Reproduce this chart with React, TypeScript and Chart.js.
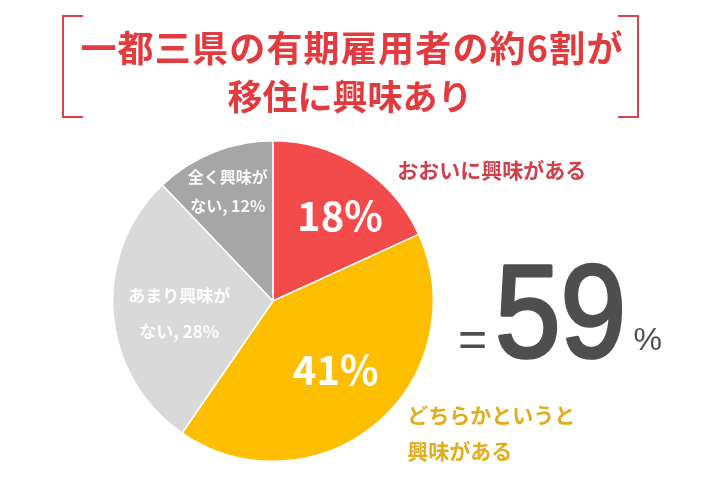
import { useEffect, useRef } from "react";
import { Chart, registerables } from "chart.js";
Chart.register(...registerables);

// ---- data ----
const categories = ["おおいに興味がある", "どちらかというと興味がある", "あまり興味がない", "全く興味がない"];
const values = [18, 41, 28, 12];
const titleLines = ["一都三県の有期雇用者の約6割が", "移住に興味あり"];
const insidePrefix = [[], [], ["あまり興味が", "ない, "], ["全く興味が", "ない, "]];
const outsideLabels = [["おおいに興味がある"], ["どちらかというと", "興味がある"]];

// ---- style ----
const colors = ["#f34b4b", "#fdbe00", "#d9d9d9", "#a6a6a6"];
const titleColor = "#e23b3f";
const bracketColor = "#d8434d";
const outsideColors = ["#cf3f4c", "#e2ad1c"];
const JP = "'Noto Sans CJK JP', 'Noto Sans', sans-serif";
// label placement relative to each slice (radius fraction, angle offset in degrees)
const labelR = [0.675, 0.58, 0.59, 0.74];
const labelAng = [5.5, -2.4, -2.8, -0.6];
const labelFont = ["bold 40px " + JP, "bold 40px " + JP, "bold 17px " + JP, "bold 16px " + JP];
const labelLineH = [0, 0, 36, 29];

function buildInside(i: number): string[] {
  const pre = insidePrefix[i];
  if (pre.length === 0) return [values[i] + "%"];
  return [pre[0], pre[1] + values[i] + "%"];
}

const annotPlugin = {
  id: "annot",
  afterDraw(chart: any) {
    const ctx: any = chart.ctx;
    const meta = chart.getDatasetMeta(0);
    const a0 = meta.data[0].getProps(["x", "y", "outerRadius"], true);
    const cx = a0.x, cy = a0.y, R = a0.outerRadius;
    ctx.save();

    // brackets
    ctx.strokeStyle = bracketColor;
    ctx.lineWidth = 2;
    ctx.beginPath();
    ctx.moveTo(83, 16); ctx.lineTo(63, 16); ctx.lineTo(63, 117); ctx.lineTo(83, 117);
    ctx.moveTo(618, 16); ctx.lineTo(638, 16); ctx.lineTo(638, 117); ctx.lineTo(618, 117);
    ctx.stroke();

    // title
    ctx.fillStyle = titleColor;
    ctx.textAlign = "center";
    ctx.textBaseline = "middle";
    ctx.font = "bold 36px " + JP;
    ctx.letterSpacing = "1.2px";
    ctx.fillText(titleLines[0], 352, 48);
    ctx.font = "bold 35px " + JP;
    ctx.letterSpacing = "0px";
    ctx.fillText(titleLines[1], 350, 97);

    // inside labels
    meta.data.forEach((arc: any, i: number) => {
      const p = arc.getProps(["startAngle", "endAngle"], true);
      const mid = (p.startAngle + p.endAngle) / 2 + (labelAng[i] * Math.PI) / 180;
      const r = R * labelR[i];
      const x = cx + Math.cos(mid) * r;
      const y = cy + Math.sin(mid) * r;
      const lines = buildInside(i);
      ctx.font = labelFont[i];
      ctx.fillStyle = i < 2 ? "#ffffff" : "rgba(255,255,255,0.92)";
      ctx.textAlign = "center";
      ctx.textBaseline = "middle";
      const n = lines.length;
      lines.forEach((t, k) => {
        ctx.fillText(t, x, y + (k - (n - 1) / 2) * labelLineH[i]);
      });
    });

    // outside labels
    ctx.textAlign = "left";
    ctx.textBaseline = "middle";
    ctx.font = "bold 21px " + JP;
    ctx.fillStyle = outsideColors[0];
    ctx.fillText(outsideLabels[0][0], cx + 0.776 * R, cy - 0.82 * R);
    ctx.fillStyle = outsideColors[1];
    ctx.fillText(outsideLabels[1][0], cx + 0.837 * R, cy + 0.71 * R);
    ctx.fillText(outsideLabels[1][1], cx + 0.837 * R, cy + 0.935 * R);

    // = 59 %
    const total = values[0] + values[1];
    ctx.fillStyle = "#4e4e4e";
    ctx.strokeStyle = "#4e4e4e";
    ctx.lineJoin = "round";
    ctx.textBaseline = "alphabetic";
    ctx.font = "50px 'Liberation Sans', Arial, sans-serif";
    ctx.fillText("=", cx + 1.155 * R, cy + 0.345 * R);
    ctx.save();
    const bx = cx + 1.385 * R;
    ctx.translate(bx, cy + 0.35 * R);
    ctx.scale(0.9, 1);
    ctx.font = "131px 'Liberation Sans', Arial, sans-serif";
    ctx.lineWidth = 3.5;
    ctx.fillText(String(total), 0, 0);
    ctx.strokeText(String(total), 0, 0);
    ctx.restore();
    ctx.font = "32px 'Liberation Sans', Arial, sans-serif";
    ctx.fillText("%", cx + 2.25 * R, cy + 0.305 * R);

    ctx.restore();
  },
};

export default function App() {
  const ref = useRef<HTMLCanvasElement | null>(null);
  useEffect(() => {
    if (!ref.current) return;
    const chart = new Chart(ref.current, {
      type: "pie",
      data: {
        labels: categories,
        datasets: [
          {
            data: values,
            backgroundColor: colors,
            borderColor: "#ffffff",
            borderWidth: 1.5,
          },
        ],
      },
      options: {
        animation: false,
        responsive: false,
        devicePixelRatio: 1,
        layout: { padding: { left: 112, right: 286, top: 140, bottom: 18 } },
        plugins: {
          legend: { display: false },
          tooltip: { enabled: false },
          title: { display: false },
        },
      },
      plugins: [annotPlugin],
    });
    return () => chart.destroy();
  }, []);
  return (
    <div style={{ position: "fixed", left: 0, top: 0, width: 720, height: 480, background: "#ffffff" }}>
      <canvas ref={ref} width={720} height={480} style={{ width: 720, height: 480 }} />
    </div>
  );
}
